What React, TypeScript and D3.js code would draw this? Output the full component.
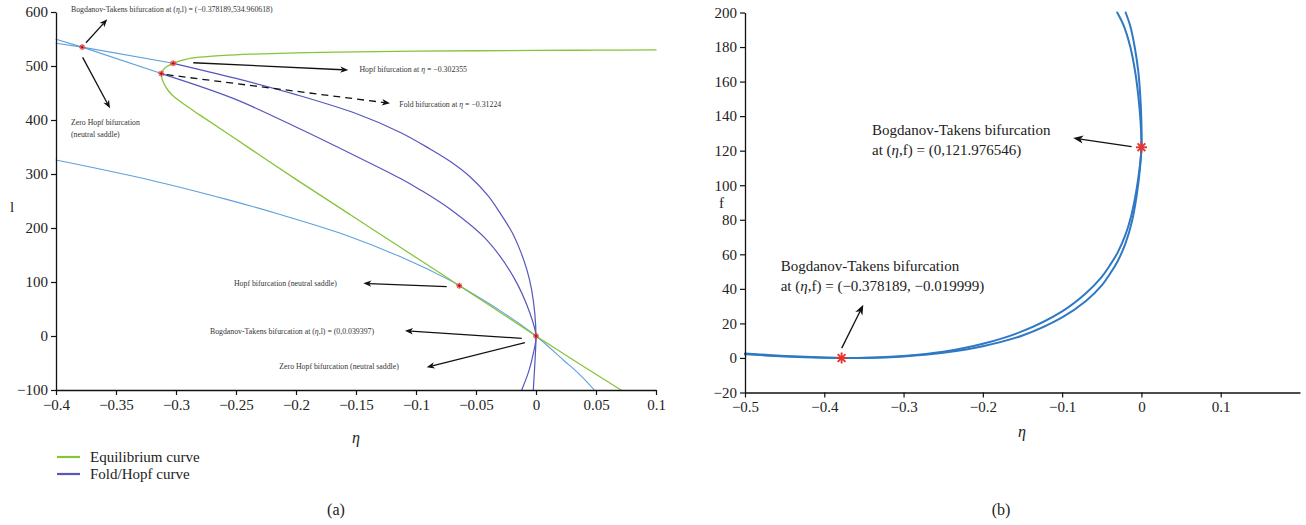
import React, { useEffect, useRef } from "react";
import * as d3 from "d3";

type Pt = [number, number];

const SERIF = "Liberation Serif, Times New Roman, serif";

// ---------- panel (a): η – l plane ----------
const etaTicksA = [-0.4, -0.35, -0.3, -0.25, -0.2, -0.15, -0.1, -0.05, 0, 0.05, 0.1];
const lTicksA = [-100, 0, 100, 200, 300, 400, 500, 600];

// equilibrium curve: upper branch (right to left), fold, lower branch
const equilibriumCurve: Pt[] = [
  [0.1, 529.8], [0.05, 529.3], [0, 528.8], [-0.05, 528.2], [-0.1, 527.4], [-0.15, 526.2],
  [-0.2, 524.4], [-0.235, 522], [-0.26, 519.6], [-0.28, 516.3], [-0.292, 512.3],
  [-0.302355, 505], [-0.3075, 499], [-0.3107, 493], [-0.31224, 486],
  [-0.3117, 477], [-0.31, 467], [-0.307, 456], [-0.303, 446], [-0.2975, 436], [-0.29, 424],
  [-0.28, 409], [-0.2564, 374], [-0.2, 290], [-0.155, 225], [-0.115, 167],
  [-0.0717, 104.5], [-0.0639, 93.1], [-0.03, 44], [0, 0.04], [0.035, -50], [0.0708, -100],
];

// Fold/Hopf curve leaving the Hopf point
const foldHopfOuter: Pt[] = [
  [-0.302355, 505], [-0.25, 477], [-0.2, 447], [-0.15, 412], [-0.113, 377], [-0.088, 346],
  [-0.072, 324], [-0.055, 295], [-0.04, 260], [-0.03, 228], [-0.02, 192], [-0.0133, 159],
  [-0.0075, 122], [-0.0036, 85], [-0.001, 42], [0, 0.04], [-0.0008, -45], [-0.00225, -100],
];

// Fold/Hopf curve leaving the fold point
const foldHopfInner: Pt[] = [
  [-0.31224, 486], [-0.2523, 440], [-0.2, 387], [-0.15, 333], [-0.1133, 292], [-0.0967, 271],
  [-0.0717, 235], [-0.0411, 178], [-0.0189, 110], [-0.005, 42], [0, 0.04], [-0.002, -30],
  [-0.006, -65], [-0.0119, -100],
];

// neutral saddle branches
const saddleSteep: Pt[] = [[-0.4, 549.5], [-0.378189, 534.960618], [-0.31224, 486]];
const saddleShallow: Pt[] = [[-0.4, 542], [-0.378189, 534.960618], [-0.302355, 505]];
const saddleLower: Pt[] = [
  [-0.4, 326], [-0.3217, 289], [-0.2578, 253], [-0.2147, 226], [-0.16, 188], [-0.1133, 147],
  [-0.0717, 103], [-0.0639, 93.1], [-0.03, 47], [0, 0.04], [0.02275, -44.4], [0.0367, -72],
  [0.0486, -100],
];

const pointsA: Pt[] = [
  [-0.378189, 534.960618], [-0.302355, 505], [-0.31224, 486], [-0.0639, 93.1], [0, 0.039397],
];

// ---------- panel (b): η – f plane ----------
const etaTicksB = [-0.5, -0.4, -0.3, -0.2, -0.1, 0, 0.1];
const fTicksB = [-20, 0, 20, 40, 60, 80, 100, 120, 140, 160, 180, 200];

const btCurveOuter: Pt[] = [
  [-0.5, 2.6], [-0.45, 1.2], [-0.4, 0.2], [-0.378, 0], [-0.35, 0.1], [-0.3, 1.2], [-0.25, 3.6],
  [-0.2, 8.2], [-0.15, 15.5], [-0.1, 27], [-0.07, 37.5], [-0.05, 47], [-0.04, 53.5],
  [-0.03, 61], [-0.02, 71.5], [-0.012, 84], [-0.006, 98], [-0.002, 111], [0, 122],
  [-0.001, 136], [-0.004, 152], [-0.008, 166], [-0.014, 180], [-0.022, 192], [-0.0305, 200],
];
const btCurveInner: Pt[] = [
  [-0.5, 2.2], [-0.45, 0.9], [-0.4, 0.1], [-0.378, -0.02], [-0.35, 0], [-0.3, 0.9], [-0.25, 3.0],
  [-0.2, 6.8], [-0.15, 13], [-0.1, 23.5], [-0.07, 33], [-0.05, 42], [-0.04, 48.5],
  [-0.03, 56], [-0.02, 66.5], [-0.012, 79], [-0.006, 94], [-0.002, 109], [0, 122],
  [0, 136], [-0.0015, 152], [-0.004, 166], [-0.0085, 180], [-0.014, 192], [-0.0199, 200],
];
const pointsB: Pt[] = [[0, 121.976546], [-0.378189, -0.019999]];

// ---------- annotations (data units) ----------
type Note = { lines: string[]; at: Pt; from?: Pt; to?: Pt; dashed?: boolean };

const notesA: Note[] = [
  { lines: ["Bogdanov-Takens bifurcation at (η,l) = (−0.378189,534.960618)"], at: [-0.3875, 600], from: [-0.375, 543], to: [-0.3573, 586.5] },
  { lines: ["Zero Hopf bifurcation", "(neutral saddle)"], at: [-0.3875, 390], from: [-0.3778, 516], to: [-0.355, 421.7] },
  { lines: ["Hopf bifurcation at η = −0.302355"], at: [-0.1471, 489.3], from: [-0.2856, 506], to: [-0.1564, 492.6] },
  { lines: ["Fold bifurcation at η = −0.31224"], at: [-0.1139, 424.4], from: [-0.3078, 483.9], to: [-0.1217, 430.9], dashed: true },
  { lines: ["Hopf bifurcation (neutral saddle)"], at: [-0.2517, 91.7], from: [-0.0744, 91.3], to: [-0.1439, 97.6] },
  { lines: ["Bogdanov-Takens bifurcation at (η,l) = (0,0.039397)"], at: [-0.2717, 3.3], from: [-0.0119, -4.3], to: [-0.1092, 9.8] },
  { lines: ["Zero Hopf bifurcation (neutral saddle)"], at: [-0.2139, -61.5], from: [-0.0092, -12.4], to: [-0.0911, -58] },
];

const notesB: Note[] = [
  { lines: ["Bogdanov-Takens bifurcation", "at (η,f) = (0,121.976546)"], at: [-0.3398, 129.2], from: [-0.0124, 122.4], to: [-0.086, 127.3] },
  { lines: ["Bogdanov-Takens bifurcation", "at (η,f) = (−0.378189, −0.019999)"], at: [-0.455, 50.3], from: [-0.378, 5.7], to: [-0.3508, 30.8] },
];

const legendItems = [
  { label: "Equilibrium curve", color: "#86c43a" },
  { label: "Fold/Hopf curve", color: "#5656bd" },
];

// ---------- scales ----------
const xA = d3.scaleLinear().domain([-0.4, 0.1]).range([56, 656]);
const yA = d3.scaleLinear().domain([-100, 600]).range([390, 12]);
const xB = d3.scaleLinear().domain([-0.5, 0.2]).range([745, 1300]);
const yB = d3.scaleLinear().domain([-20, 200]).range([392.5, 12.5]);

const GREEN = "#86c43a";
const PURPLE = "#5656bd";
const LIGHT_BLUE = "#5ea0dc";
const BLUE = "#2f78c4";
const RED = "#e3342f";
const INK = "#222";

function smoothLine(xs: d3.ScaleLinear<number, number>, ys: d3.ScaleLinear<number, number>) {
  return d3
    .line<Pt>()
    .x((d) => xs(d[0]))
    .y((d) => ys(d[1]))
    .curve(d3.curveCatmullRom.alpha(0.5));
}

// text with an italic η
function richText(s: string) {
  const parts = s.split("η");
  const out: React.ReactNode[] = [];
  parts.forEach((p, i) => {
    if (i > 0)
      out.push(
        <tspan key={"e" + i} fontStyle="italic">
          η
        </tspan>
      );
    if (p) out.push(<tspan key={"t" + i}>{p}</tspan>);
  });
  return out;
}

function Label(props: React.SVGProps<SVGTextElement>) {
  return <text fontFamily={SERIF} fill={INK} {...props} />;
}

function Arrow({ x1, y1, x2, y2, len, half, width, dashed }: { x1: number; y1: number; x2: number; y2: number; len: number; half: number; width: number; dashed?: boolean }) {
  const dx = x2 - x1;
  const dy = y2 - y1;
  const d = Math.hypot(dx, dy);
  const ux = dx / d;
  const uy = dy / d;
  const nx = -uy;
  const ny = ux;
  const bx = x2 - ux * len;
  const by = y2 - uy * len;
  const kx = x2 - ux * len * 0.72;
  const ky = y2 - uy * len * 0.72;
  const head = `M${x2},${y2}L${bx + nx * half},${by + ny * half}L${kx},${ky}L${bx - nx * half},${by - ny * half}Z`;
  return (
    <g>
      <line x1={x1} y1={y1} x2={kx} y2={ky} stroke="#111" strokeWidth={width} strokeDasharray={dashed ? "7,5" : undefined} />
      <path d={head} fill="#111" />
    </g>
  );
}

function Axes({ xs, ys, xt, yt }: { xs: d3.ScaleLinear<number, number>; ys: d3.ScaleLinear<number, number>; xt: number[]; yt: number[] }) {
  const gx = useRef<SVGGElement>(null);
  const gy = useRef<SVGGElement>(null);
  useEffect(() => {
    const fmt = d3.format("~g");
    const bottom = d3.select(gx.current!);
    bottom.call(d3.axisBottom(xs).tickValues(xt).tickFormat((v) => fmt(v as number)).tickSize(5).tickSizeOuter(0).tickPadding(4));
    const left = d3.select(gy.current!);
    left.call(d3.axisLeft(ys).tickValues(yt).tickFormat((v) => fmt(v as number)).tickSize(5).tickSizeOuter(0).tickPadding(3));
    [bottom, left].forEach((g) => {
      g.attr("font-family", SERIF).attr("font-size", 15);
      g.select(".domain").attr("stroke", "#111").attr("stroke-width", 1.3);
      g.selectAll(".tick line").attr("stroke", "#111").attr("stroke-width", 1.2);
      g.selectAll(".tick text").attr("fill", INK).attr("font-family", SERIF).attr("font-size", 15);
    });
  }, [xs, ys, xt, yt]);
  return (
    <g>
      <g ref={gx} transform={`translate(0,${ys.range()[0]})`} />
      <g ref={gy} transform={`translate(${xs.range()[0]},0)`} />
    </g>
  );
}

function SmallMarker({ x, y }: { x: number; y: number }) {
  const r = 3;
  return (
    <g>
      <circle cx={x} cy={y} r={2.8} fill="#ff4d4d" opacity={0.55} />
      {[0, 45, 90, 135].map((a) => {
        const t = (a * Math.PI) / 180;
        return (
          <line key={a} x1={x - r * Math.cos(t)} y1={y - r * Math.sin(t)} x2={x + r * Math.cos(t)} y2={y + r * Math.sin(t)} stroke="#e8302c" strokeWidth={1} opacity={0.85} />
        );
      })}
      <circle cx={x} cy={y} r={0.9} fill="#7a1010" />
    </g>
  );
}

function StarMarker({ x, y }: { x: number; y: number }) {
  const r = 5.5;
  return (
    <g>
      {[0, 45, 90, 135].map((a) => {
        const t = (a * Math.PI) / 180;
        return (
          <line key={a} x1={x - r * Math.cos(t)} y1={y - r * Math.sin(t)} x2={x + r * Math.cos(t)} y2={y + r * Math.sin(t)} stroke={RED} strokeWidth={1.9} />
        );
      })}
    </g>
  );
}

export default function App() {
  const lineA = smoothLine(xA, yA);
  const lineB = smoothLine(xB, yB);
  const straightA = d3.line<Pt>().x((d) => xA(d[0])).y((d) => yA(d[1]));

  return (
    <div style={{ position: "absolute", left: 0, top: 0 }}>
      <svg width={1306} height={525} style={{ display: "block", background: "#fff" }} fontFamily={SERIF}>
        {/* ---------------- panel (a) ---------------- */}
        <g fill="none" strokeLinejoin="round" strokeLinecap="round">
          <path d={lineA(saddleLower)!} stroke={LIGHT_BLUE} strokeWidth={1.1} />
          <path d={straightA(saddleSteep)!} stroke={LIGHT_BLUE} strokeWidth={1.1} />
          <path d={straightA(saddleShallow)!} stroke={LIGHT_BLUE} strokeWidth={1.1} />
          <path d={lineA(foldHopfOuter)!} stroke={PURPLE} strokeWidth={1.2} />
          <path d={lineA(foldHopfInner)!} stroke={PURPLE} strokeWidth={1.2} />
          <path d={lineA(equilibriumCurve)!} stroke={GREEN} strokeWidth={1.3} />
        </g>
        {pointsA.map((p, i) => (
          <SmallMarker key={i} x={xA(p[0])} y={yA(p[1])} />
        ))}
        <Axes xs={xA} ys={yA} xt={etaTicksA} yt={lTicksA} />

        {notesA.map((n, i) => (
          <g key={i}>
            {n.lines.map((s, j) => (
              <Label key={j} x={xA(n.at[0])} y={yA(n.at[1]) + j * 11.7} fontSize={7.8} fill="#333">
                {richText(s)}
              </Label>
            ))}
            {n.from && n.to && (
              <Arrow x1={xA(n.from[0])} y1={yA(n.from[1])} x2={xA(n.to[0])} y2={yA(n.to[1])} len={8} half={3.2} width={1.3} dashed={n.dashed} />
            )}
          </g>
        ))}

        <Label x={10} y={212} fontSize={15}>
          l
        </Label>
        <Label x={356} y={443} fontSize={16} fontStyle="italic" textAnchor="middle">
          η
        </Label>

        {legendItems.map((d, i) => (
          <g key={d.label} transform={`translate(0,${457 + i * 17})`}>
            <line x1={57} x2={80} y1={0} y2={0} stroke={d.color} strokeWidth={2.2} />
            <Label x={90} y={5} fontSize={15}>
              {d.label}
            </Label>
          </g>
        ))}
        <Label x={336} y={515} fontSize={16} textAnchor="middle">
          (a)
        </Label>

        {/* ---------------- panel (b) ---------------- */}
        <g fill="none" strokeLinejoin="round" strokeLinecap="round">
          <path d={lineB(btCurveOuter)!} stroke={BLUE} strokeWidth={2} />
          <path d={lineB(btCurveInner)!} stroke={BLUE} strokeWidth={2} />
        </g>
        <Axes xs={xB} ys={yB} xt={etaTicksB} yt={fTicksB} />
        {pointsB.map((p, i) => (
          <StarMarker key={i} x={xB(p[0])} y={yB(p[1])} />
        ))}
        {notesB.map((n, i) => (
          <g key={i}>
            {n.lines.map((s, j) => (
              <Label key={j} x={xB(n.at[0])} y={yB(n.at[1]) + j * 20} fontSize={15}>
                {richText(s)}
              </Label>
            ))}
            {n.from && n.to && (
              <Arrow x1={xB(n.from[0])} y1={yB(n.from[1])} x2={xB(n.to[0])} y2={yB(n.to[1])} len={10} half={4} width={1.3} />
            )}
          </g>
        ))}
        <Label x={719} y={208} fontSize={15}>
          f
        </Label>
        <Label x={1022} y={437} fontSize={16} fontStyle="italic" textAnchor="middle">
          η
        </Label>
        <Label x={1001} y={515} fontSize={16} textAnchor="middle">
          (b)
        </Label>
      </svg>
    </div>
  );
}
